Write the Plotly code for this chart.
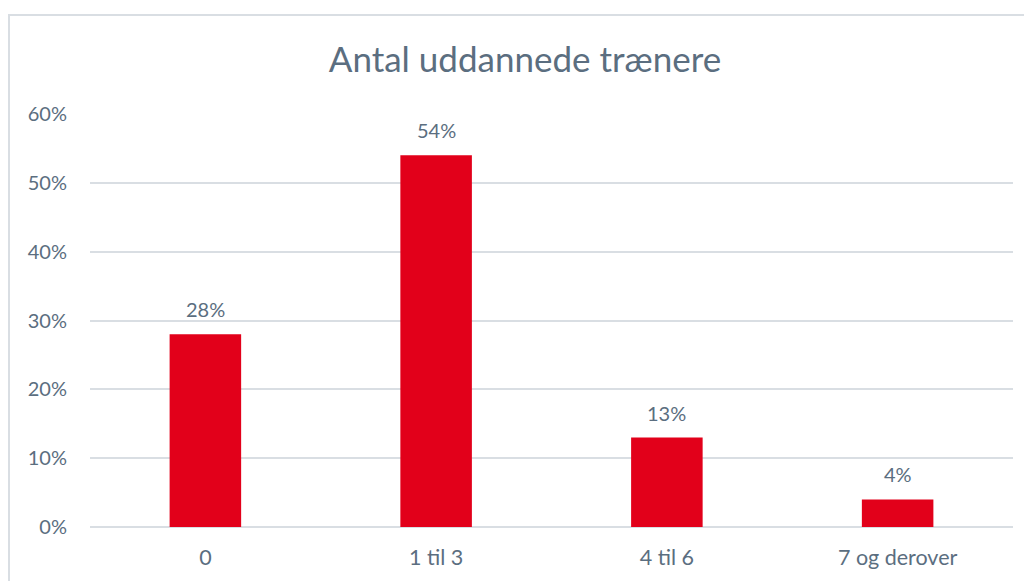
import plotly.graph_objects as go

# data
categories = ["0", "1 til 3", "4 til 6", "7 og derover"]
shares = [28, 54, 13, 4]
tick_vals = [0, 10, 20, 30, 40, 50, 60]
tick_text = ["0%", "10%", "20%", "30%", "40%", "50%", "60%"]

bar_red = "#E2001A"
text_grey = "#5B6E80"
grid_grey = "#D9DEE3"
font = "Lato, 'Open Sans', sans-serif"

fig = go.Figure()
fig.add_trace(go.Bar(
    x=categories,
    y=shares,
    marker=dict(color=bar_red, line=dict(width=0)),
    hoverinfo="skip",
))

# value labels above the bars
for cat, val in zip(categories, shares):
    fig.add_annotation(
        x=cat, y=val, text=f"{val}%", showarrow=False,
        yanchor="bottom", yshift=11,
        font=dict(size=20, color=text_grey, family=font),
    )

# page body has an 8px margin, so the figure is sized to fit the window
W, H = 1024, 573
ml, mr, mt, mb = 82, 19, 106, 54
pw, ph = W - ml - mr, H - mt - mb

# light frame around the whole chart (Excel-style chart area border)
fig.add_shape(
    type="rect", xref="paper", yref="paper",
    x0=(1 - ml) / pw, x1=(W + 20 - ml) / pw,
    y0=-(mb + 20) / ph, y1=1 + (mt - 7) / ph,
    line=dict(color=grid_grey, width=2), fillcolor="rgba(0,0,0,0)",
    layer="below",
)

fig.update_layout(
    width=W, height=H,
    margin=dict(l=ml, r=mr, t=mt, b=mb),
    paper_bgcolor="white", plot_bgcolor="white",
    bargap=0.69,
    showlegend=False,
    font=dict(family=font, color=text_grey, size=20),
    title=dict(
        text="Antal uddannede trænere",
        x=517 / W, xanchor="center", y=1 - 52 / H, yanchor="middle",
        font=dict(size=35, color=text_grey, family=font),
    ),
    xaxis=dict(
        showgrid=False, showline=False, zeroline=False,
        ticks="", ticklabelstandoff=15,
        tickfont=dict(size=21.5, color=text_grey),
    ),
    yaxis=dict(
        range=[0, 60], tickvals=tick_vals, ticktext=tick_text,
        showgrid=True, gridcolor=grid_grey, gridwidth=1.5,
        zeroline=True, zerolinecolor=grid_grey, zerolinewidth=1.5,
        showline=False, ticks="", ticklabelstandoff=22,
        tickfont=dict(size=20, color=text_grey),
    ),
)

fig.write_html("out.html")
